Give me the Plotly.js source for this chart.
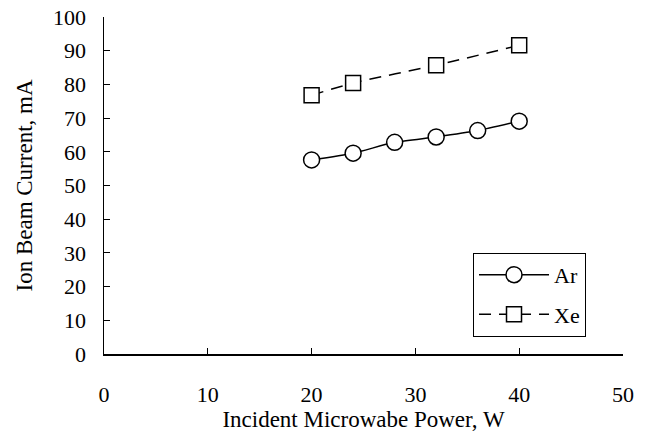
<!DOCTYPE html>
<html><head><meta charset="utf-8">
<script src="https://cdn.plot.ly/plotly-3.0.1.min.js"></script>
<style>body{margin:0;background:#fff}#chart{width:645px;height:435px}</style>
</head><body><div id="chart"></div>
<script>
const arPower = [20, 24, 28, 32, 36, 40];
const arCurrent = [57.6, 59.6, 62.8, 64.4, 66.3, 69.1];
const xePower = [20, 24, 32, 40];
const xeCurrent = [76.8, 80.4, 85.7, 91.6];
const xTicks = [0, 10, 20, 30, 40, 50];
const yTicks = [0, 10, 20, 30, 40, 50, 60, 70, 80, 90, 100];

const FAM = "'Liberation Serif', 'Times New Roman', serif";
function f(size) { return {family: FAM, size: size, color: '#000'}; }
const traces = [
  {x: arPower, y: arCurrent, name: 'Ar', legendgroup: 'a', mode: 'lines+markers',
   line: {color: '#000', width: 1.5, shape: 'spline', smoothing: 0.6},
   marker: {symbol: 'circle', size: 16, color: '#fff', line: {color: '#000', width: 1.5}}},
  {x: xePower, y: xeCurrent, name: 'Xe', legendgroup: 'b', mode: 'lines+markers',
   line: {color: '#000', width: 1.5, dash: '12px,8px', shape: 'spline', smoothing: 0.6},
   marker: {symbol: 'square', size: 15, color: '#fff', line: {color: '#000', width: 1.5}}}
];
const layout = {
  width: 645, height: 435,
  margin: {l: 104, r: 22, t: 17, b: 81},
  paper_bgcolor: '#fff', plot_bgcolor: '#fff',
  font: f(22),
  showlegend: true,
  legend: {x: 0.711, y: 0.30, xanchor: 'left', yanchor: 'top', bordercolor: '#000', borderwidth: 1,
           bgcolor: '#fff', font: f(22), tracegroupgap: 8, itemwidth: 70},
  xaxis: {range: [0, 50], tickvals: xTicks, ticks: 'inside', ticklen: 6, tickcolor: '#000',
          showline: true, linecolor: '#000', linewidth: 1.5, showgrid: false, zeroline: false,
          ticklabelstandoff: 20,
          tickfont: f(22), title: {text: 'Incident Microwabe Power, W', font: f(23), standoff: 4}},
  yaxis: {range: [0, 100], tickvals: yTicks, ticks: 'inside', ticklen: 6, tickcolor: '#000',
          showline: true, linecolor: '#000', linewidth: 1.5, showgrid: false, zeroline: false,
          ticklabelstandoff: 12,
          tickfont: f(22), title: {text: 'Ion Beam Current, mA', font: f(23), standoff: 14}}
};
Plotly.newPlot('chart', traces, layout, {displayModeBar: false, staticPlot: true});
</script></body></html>
